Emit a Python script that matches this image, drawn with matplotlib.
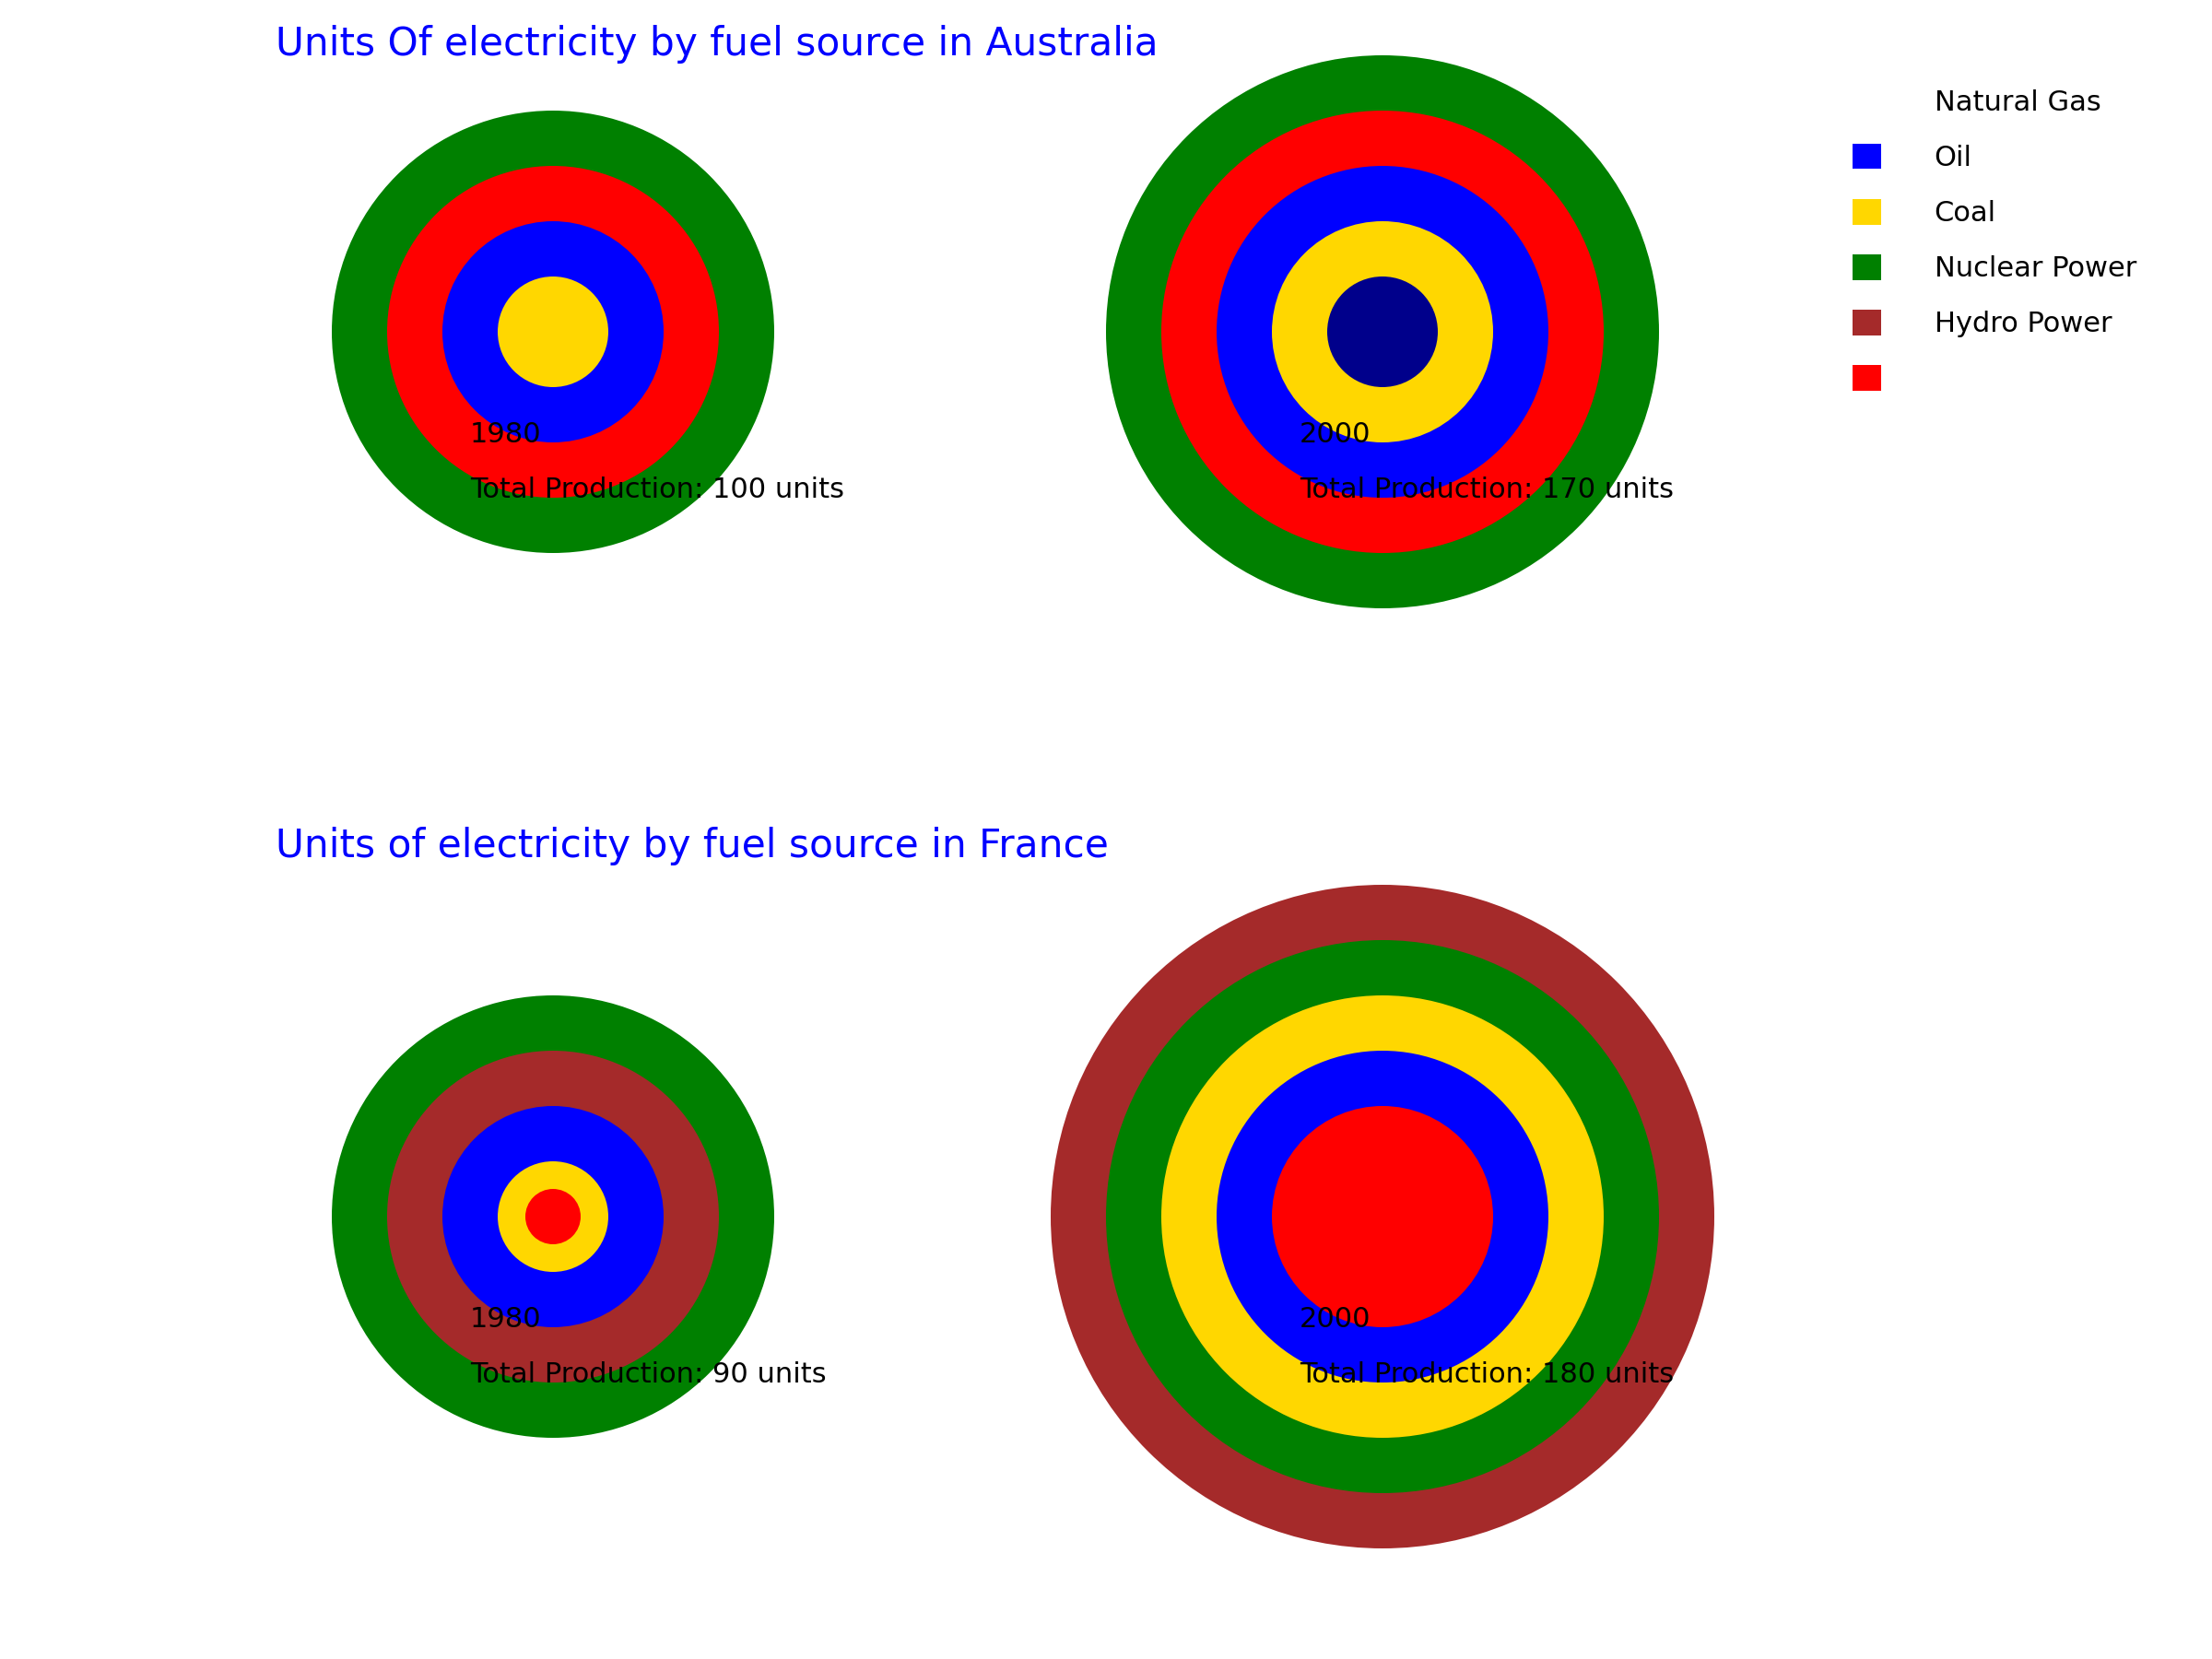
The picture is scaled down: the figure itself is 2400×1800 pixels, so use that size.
import matplotlib
matplotlib.use("Agg")
import matplotlib.pyplot as plt
from matplotlib.patches import Circle, Patch

# ---- data ----
countries = ["Australia", "France"]
titles = ["Units Of electricity by fuel source in Australia",
          "Units of electricity by fuel source in France"]
years = ["1980", "2000"]
totals = [[100, 170], [90, 180]]

# ring radii (outer to inner) and colours for each country/year
au_1980_radii = [4, 3, 2, 1]
au_1980_colors = ["green", "red", "blue", "gold"]
au_2000_radii = [5, 4, 3, 2, 1]
au_2000_colors = ["green", "red", "blue", "gold", "darkblue"]
fr_1980_radii = [4, 3, 2, 1, 0.5]
fr_1980_colors = ["green", "brown", "blue", "gold", "red"]
fr_2000_radii = [6, 5, 4, 3, 2]
fr_2000_colors = ["brown", "green", "gold", "blue", "red"]

radii = [[au_1980_radii, au_2000_radii], [fr_1980_radii, fr_2000_radii]]
colors = [[au_1980_colors, au_2000_colors], [fr_1980_colors, fr_2000_colors]]

legend_labels = ["Natural Gas", "Oil", "Coal", "Nuclear Power", "Hydro Power", ""]
legend_colors = ["none", "blue", "gold", "green", "brown", "red"]

# ---- figure ----
W, H, DPI = 2400, 1800, 200
fig = plt.figure(figsize=(W / DPI, H / DPI), dpi=DPI)
unit = 60.0          # pixels per data unit
half = 6.5           # half-extent of each panel in data units
centers_x = [600, 1500]
centers_y = [360, 1320]
title_baselines = [60, 930]

for r in range(2):
    for c in range(2):
        cx, cy = centers_x[c], centers_y[r]
        s = half * unit
        ax = fig.add_axes([(cx - s) / W, (H - cy - s) / H, 2 * s / W, 2 * s / H])
        ax.set_xlim(-half, half)
        ax.set_ylim(-half, half)
        ax.axis("off")
        for rad, col in zip(radii[r][c], colors[r][c]):
            ax.add_patch(Circle((0, 0), rad, color=col, lw=0))
        ax.text(-1.5, -2, years[c], fontsize=11, va="baseline", ha="left")
        ax.text(-1.5, -3, f"Total Production: {totals[r][c]} units",
                fontsize=11, va="baseline", ha="left")
    fig.text(299 / W, 1 - title_baselines[r] / H, titles[r], color="blue",
             fontsize=15.2, va="baseline", ha="left")

handles = [Patch(facecolor=col, edgecolor="none") for col in legend_colors]
fig.legend(handles, legend_labels, loc="upper left",
           bbox_to_anchor=(2010 / W, 1 - 96 / H), frameon=False,
           fontsize=11, handlelength=1.0, handleheight=1.0,
           handletextpad=1.9, labelspacing=0.98, borderpad=0,
           borderaxespad=0)

fig.savefig("out.png", dpi=DPI)
